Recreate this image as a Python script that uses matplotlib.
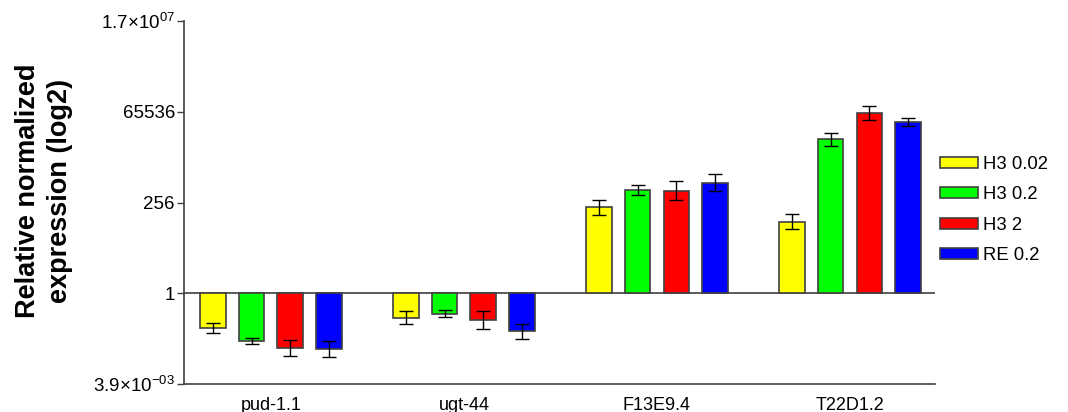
"""Relative normalized expression (log2) of four genes under four treatments."""

import matplotlib
matplotlib.use("Agg")
import matplotlib.pyplot as plt
import numpy as np

matplotlib.rcParams["font.family"] = ["Liberation Sans", "DejaVu Sans"]
matplotlib.rcParams["mathtext.fontset"] = "custom"
matplotlib.rcParams["mathtext.rm"] = "Liberation Sans"
matplotlib.rcParams["mathtext.it"] = "Liberation Sans:italic"
matplotlib.rcParams["mathtext.bf"] = "Liberation Sans:bold"

genes = ["pud-1.1", "ugt-44", "F13E9.4", "T22D1.2"]
treatments = ["H3 0.02", "H3 0.2", "H3 2", "RE 0.2"]
colors = ["#FFFF00", "#00FF00", "#FF0000", "#0000FF"]

# log2 fold change per treatment (one value per gene)
log2_h3_002 = [-3.08, -2.14, 7.57, 6.30]
log2_h3_02 = [-4.23, -1.79, 9.10, 13.56]
log2_h3_2 = [-4.81, -2.38, 9.04, 15.91]
log2_re_02 = [-4.90, -3.35, 9.75, 15.11]

# error (log2 units, symmetric)
err_h3_002 = [0.44, 0.57, 0.66, 0.65]
err_h3_02 = [0.28, 0.34, 0.45, 0.57]
err_h3_2 = [0.68, 0.78, 0.82, 0.60]
err_re_02 = [0.68, 0.66, 0.78, 0.37]

log2_vals = [log2_h3_002, log2_h3_02, log2_h3_2, log2_re_02]
log2_errs = [err_h3_002, err_h3_02, err_h3_2, err_re_02]

ytick_vals = [2.0**-8, 1, 2.0**8, 2.0**16, 2.0**24]
ytick_labels = [r"3.9×10$^{-03}$", "1", "256", "65536", r"1.7×10$^{07}$"]

fig = plt.figure(figsize=(10.68, 4.12), dpi=100)
ax = fig.add_axes([184 / 1068, 1 - 384 / 412, (935 - 184) / 1068, (384 - 21) / 412])

x = np.arange(len(genes))
width = 0.132
step = 0.2
edge = "#404040"

for i, (vals, errs) in enumerate(zip(log2_vals, log2_errs)):
    v = np.array(vals)
    e = np.array(errs)
    top = 2.0 ** v
    lo = top - 2.0 ** (v - e)
    hi = 2.0 ** (v + e) - top
    pos = x + (i - 1.5) * step
    ax.bar(pos, top - 1, bottom=1, width=width, color=colors[i],
           edgecolor=edge, linewidth=1.2, label=treatments[i], zorder=2)
    ax.errorbar(pos, top, yerr=[lo, hi], fmt="none", ecolor="black",
                elinewidth=1, capsize=4.7, capthick=1, zorder=3)

ax.set_yscale("log", base=2)
ax.set_ylim(2.0**-8, 2.0**24)
ax.set_xlim(-0.45, 3.44)
ax.axhline(1, color=edge, linewidth=1.2, zorder=1)

ax.set_yticks(ytick_vals)
ax.set_yticklabels(ytick_labels)
ax.yaxis.set_minor_locator(matplotlib.ticker.NullLocator())
ax.tick_params(axis="y", length=5, width=1, color=edge, pad=1.5, labelsize=13.5)
ax.set_xticks(x)
ax.set_xticklabels(genes)
ax.tick_params(axis="x", length=0, pad=9, labelsize=13)

for side in ["top", "right"]:
    ax.spines[side].set_visible(False)
for side in ["left", "bottom"]:
    ax.spines[side].set_color(edge)
    ax.spines[side].set_linewidth(1.2)

fig.text(44 / 1068, 1 - 191 / 412, "Relative normalized\nexpression (log2)",
         rotation=90, ha="center", va="center", fontsize=19.5,
         fontweight="bold", linespacing=1.3)

leg = ax.legend(loc="upper left", bbox_to_anchor=(940 / 1068, 1 - 156 / 412),
                bbox_transform=fig.transFigure, frameon=False, fontsize=13.3,
                handlelength=2.05, handleheight=0.55, handletextpad=0.3,
                labelspacing=0.72, borderaxespad=0, borderpad=0)

fig.savefig("out.png", dpi=100)
